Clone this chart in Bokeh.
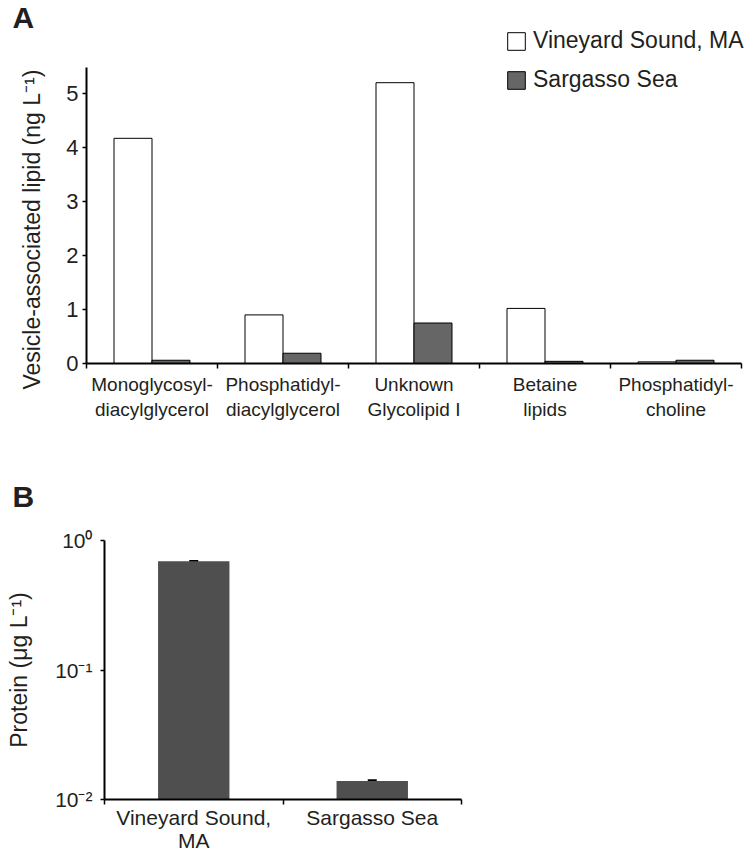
import numpy as np
from bokeh.plotting import figure
from bokeh.models import (Range1d, FixedTicker, Legend, LegendItem, ColumnDataSource,
                          Whisker, TeeHead)
from bokeh.transform import dodge
from bokeh.embed import file_html
from bokeh.resources import INLINE

# ---------------- data ----------------
categories_a = ["Monoglycosyl-\ndiacylglycerol", "Phosphatidyl-\ndiacylglycerol",
                "Unknown\nGlycolipid I", "Betaine\nlipids", "Phosphatidyl-\ncholine"]
vineyard_lipid = [4.17, 0.90, 5.20, 1.02, 0.03]
sargasso_lipid = [0.06, 0.19, 0.75, 0.04, 0.06]
series_names = ["Vineyard Sound, MA", "Sargasso Sea"]
lipid_ticks = [0, 1, 2, 3, 4, 5]
lipid_axis_top = 5.48

categories_b = ["Vineyard Sound,\nMA", "Sargasso Sea"]
protein = [0.69, 0.0139]
protein_err = [0.004, 0.0002]
protein_ticks = [0.01, 0.1, 1]
protein_tick_labels = ["10\u207b\u00b2", "10\u207b\u00b9", "10\u2070"]

FONT = "Liberation Sans"
TXT = "#231f20"
NBSP = "\u00a0"

# ---------------- panel A ----------------
n_a = len(categories_a)
centers_a = np.arange(n_a) + 0.5
bounds_a = np.arange(n_a + 1)
cat_px = 131.0            # pixel width of one category
frame_w_a = 668
frame_h_a = 338
unit_px = 54.0            # pixels per ng/L

pa = figure(frame_width=frame_w_a, frame_height=frame_h_a,
            x_range=Range1d(0, frame_w_a / cat_px), y_range=Range1d(0, frame_h_a / unit_px),
            min_border_left=86, min_border_right=2, min_border_top=25, min_border_bottom=85,
            output_backend="svg", toolbar_location=None, outline_line_color=None)
pa.grid.visible = False

src_a = ColumnDataSource(dict(x=centers_a, vs=vineyard_lipid, ss=sargasso_lipid))
bw = 0.29
r1 = pa.vbar(x=dodge("x", -bw / 2), top="vs", bottom=0, width=bw, source=src_a,
             fill_color="white", line_color="black", line_width=1)
r2 = pa.vbar(x=dodge("x", bw / 2), top="ss", bottom=0, width=bw, source=src_a,
             fill_color="#666666", line_color="black", line_width=1)

xa = pa.xaxis[0]
xa.bounds = (0, n_a)
xa.ticker = FixedTicker(ticks=list(centers_a), minor_ticks=list(bounds_a))
xa.major_label_overrides = {float(c): lab for c, lab in zip(centers_a, categories_a)}
xa.major_tick_line_color = None
xa.major_tick_out = 0
xa.major_tick_in = 0
xa.minor_tick_out = 5
xa.minor_tick_in = 0
xa.minor_tick_line_color = "black"
xa.minor_tick_line_width = 1.5
xa.axis_line_width = 2
xa.axis_line_color = "black"
xa.major_label_text_font = FONT
xa.major_label_text_font_size = "19px"
xa.major_label_text_color = TXT
xa.major_label_standoff = 5

ya = pa.yaxis[0]
ya.bounds = (0, lipid_axis_top)
ya.ticker = FixedTicker(ticks=lipid_ticks)
# trailing no-break spaces keep the label centred on the drawn axis (0..5.48)
ya.axis_label = "Vesicle-associated lipid (ng L\u207b\u00b9)" + NBSP * 11
ya.axis_label_text_font = FONT
ya.axis_label_text_font_size = "23px"
ya.axis_label_text_font_style = "normal"
ya.axis_label_text_color = TXT
ya.axis_label_standoff = 18
ya.major_tick_out = 4
ya.major_tick_in = 0
ya.major_tick_line_width = 1.5
ya.minor_tick_line_color = None
ya.axis_line_width = 2
ya.major_label_text_font = FONT
ya.major_label_text_font_size = "22px"
ya.major_label_text_color = TXT
ya.major_label_standoff = 4

legend = Legend(items=[LegendItem(label=series_names[0], renderers=[r1]),
                       LegendItem(label=series_names[1], renderers=[r2])],
                location=(419, 270), orientation="vertical",
                glyph_width=22, glyph_height=22, label_standoff=6, spacing=12,
                padding=0, margin=0, border_line_color=None, background_fill_alpha=0,
                label_text_font=FONT, label_text_font_size="23px", label_text_color=TXT,
                label_height=22)
pa.add_layout(legend, "center")

pa.title.text = "A"
pa.title.text_font = FONT
pa.title.text_font_size = "30px"
pa.title.text_font_style = "bold"
pa.title.text_color = TXT
pa.title.align = "left"
pa.title.offset = -74
pa.title.standoff = -16

# ---------------- panel B ----------------
n_b = len(categories_b)
centers_b = np.arange(n_b) + 0.5
bounds_b = np.arange(n_b + 1)

pb = figure(frame_width=357, frame_height=259,
            x_range=Range1d(0, n_b), y_range=Range1d(protein_ticks[0], protein_ticks[-1]),
            y_axis_type="log",
            min_border_left=104, min_border_right=20, min_border_top=92, min_border_bottom=54,
            output_backend="svg", toolbar_location=None, outline_line_color=None)
pb.grid.visible = False

upper = np.array(protein) + np.array(protein_err)
src_b = ColumnDataSource(dict(x=centers_b, top=protein, upper=upper, lower=protein))
pb.vbar(x="x", top="top", bottom=protein_ticks[0], width=0.4, source=src_b,
        fill_color="#4f4f4f", line_color=None)
pb.add_layout(Whisker(source=src_b, base="x", upper="upper", lower="lower",
                      line_color="black", line_width=1,
                      upper_head=TeeHead(size=9, line_width=2, line_color="black"),
                      lower_head=None))

xb = pb.xaxis[0]
xb.ticker = FixedTicker(ticks=list(centers_b), minor_ticks=list(bounds_b))
xb.major_label_overrides = {float(c): lab for c, lab in zip(centers_b, categories_b)}
xb.major_tick_line_color = None
xb.major_tick_out = 0
xb.major_tick_in = 0
xb.minor_tick_out = 5
xb.minor_tick_in = 0
xb.minor_tick_line_color = "black"
xb.minor_tick_line_width = 1.5
xb.axis_line_width = 2
xb.major_label_text_font = FONT
xb.major_label_text_font_size = "21px"
xb.major_label_text_color = TXT
xb.major_label_text_line_height = 1.0
xb.major_label_standoff = 1

yb = pb.yaxis[0]
yb.ticker = FixedTicker(ticks=protein_ticks)
yb.major_label_overrides = dict(zip(protein_ticks, protein_tick_labels))
yb.axis_label = "Protein (\u03bcg L\u207b\u00b9)"
yb.axis_label_text_font = FONT
yb.axis_label_text_font_size = "23px"
yb.axis_label_text_font_style = "normal"
yb.axis_label_text_color = TXT
yb.axis_label_standoff = 20
yb.major_tick_out = 4
yb.major_tick_in = 0
yb.major_tick_line_width = 1.5
yb.minor_tick_line_color = None
yb.axis_line_width = 2
yb.major_label_text_font = FONT
yb.major_label_text_font_size = "21px"
yb.major_label_text_color = TXT
yb.major_label_standoff = 8

pb.title.text = "B"
pb.title.text_font = FONT
pb.title.text_font_size = "30px"
pb.title.text_font_style = "bold"
pb.title.text_color = TXT
pb.title.align = "left"
pb.title.offset = -92
pb.title.standoff = 56

open("out.html", "w").write(file_html([pa, pb], INLINE))
